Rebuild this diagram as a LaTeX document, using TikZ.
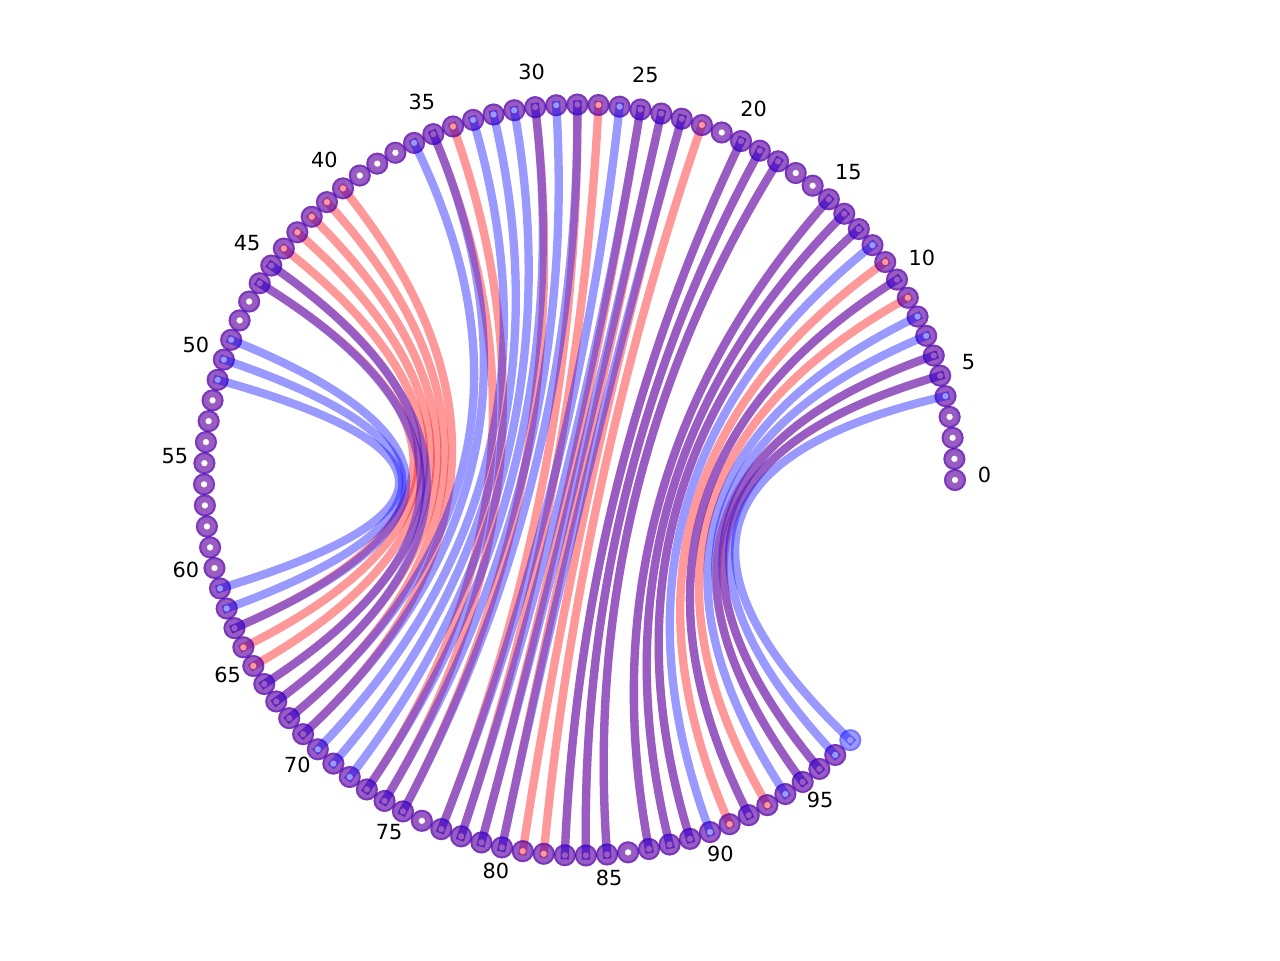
\documentclass[tikz,border=0pt]{standalone}
\usepackage{fontspec}
\setmainfont{DejaVu Sans}
\usetikzlibrary{calc}
\begin{document}
\begin{tikzpicture}[x=0.5pt,y=-0.5pt,
  redarc/.style={draw=red, opacity=0.4, line width=4.17pt, line cap=rect},
  bluearc/.style={draw=blue, opacity=0.4, line width=4.17pt, line cap=rect},
  ringfill/.style={fill=#1, opacity=0.4, even odd rule},
  ringrim/.style={draw=#1, opacity=0.22, line width=1.0pt},
  lbl/.style={font=\fontsize{10.4}{12}\selectfont, inner sep=0pt, text=black}]
\useasboundingbox (0,0) rectangle (1280,960);
\coordinate (c) at (579.5,480);
\foreach \i in {0,...,98}
  \coordinate (n\i) at ({579.5+375.5*cos(\i*3.226)},{480-375.5*sin(\i*3.226)});
% red structure
\foreach \a/\b in {5/96,6/95,9/93,10/92,11/91,13/89,14/88,15/87,18/85,19/84,20/83,22/82,23/81,24/80,25/79,27/78,28/77,30/75,34/74,35/73,40/69,41/68,42/67,43/66,44/65,45/64,46/63}
  \draw[redarc] (n\a) .. controls ($(n\a)!2/3!(c)$) and ($(n\b)!2/3!(c)$) .. (n\b);
\foreach \i in {0,...,97} {
  \fill[ringfill=red] (n\i) circle (5.5pt) (n\i) circle (1.65pt);
  \draw[ringrim=red] (n\i) circle (5.0pt);
}
% blue structure
\foreach \a/\b in {4/98,5/97,6/96,7/95,8/94,10/92,12/90,13/89,14/88,15/87,18/85,19/84,20/83,23/80,24/79,25/78,26/77,28/75,29/74,30/73,31/72,32/71,33/70,35/69,36/68,45/67,46/66,49/63,50/62,51/61}
  \draw[bluearc] (n\a) .. controls ($(n\a)!2/3!(c)$) and ($(n\b)!2/3!(c)$) .. (n\b);
\foreach \i in {0,...,98} {
  \fill[ringfill=blue] (n\i) circle (5.5pt) (n\i) circle (1.65pt);
  \draw[ringrim=blue] (n\i) circle (5.0pt);
}
% labels
\foreach \k in {0,5,...,95}
  \node[lbl] (l\k) at ({579.5+405*cos(\k*3.226)},{474.5-405*sin(\k*3.226)}) {\k};
\end{tikzpicture}
\end{document}
